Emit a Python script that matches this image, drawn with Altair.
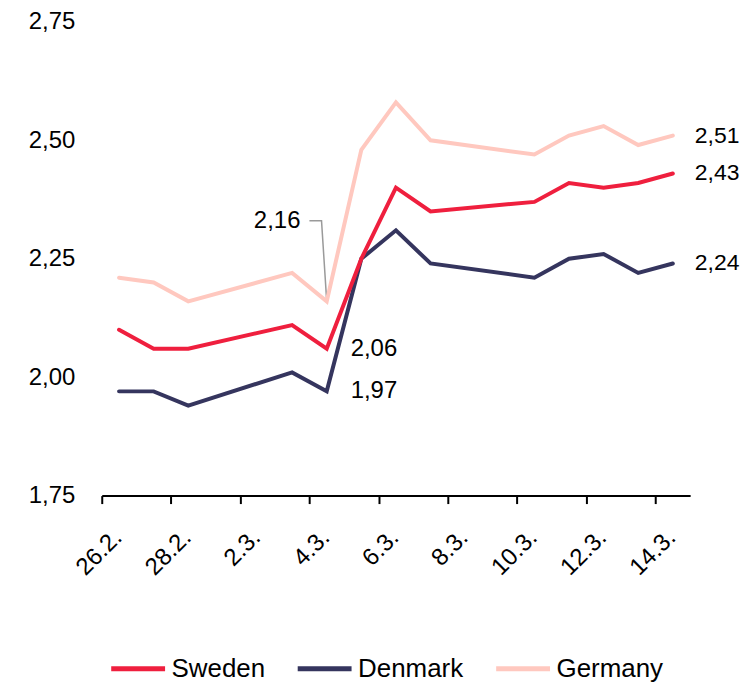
import altair as alt
import pandas as pd

FONT = "Liberation Sans"

# ---- data ----
dates = ["2025-02-26", "2025-02-27", "2025-02-28", "2025-03-03", "2025-03-04",
         "2025-03-05", "2025-03-06", "2025-03-07", "2025-03-10", "2025-03-11",
         "2025-03-12", "2025-03-13", "2025-03-14"]
sweden = [2.10, 2.06, 2.06, 2.11, 2.06, 2.25, 2.40, 2.35, 2.37, 2.41, 2.40, 2.41, 2.43]
denmark = [1.97, 1.97, 1.94, 2.01, 1.97, 2.25, 2.31, 2.24, 2.21, 2.25, 2.26, 2.22, 2.24]
germany = [2.21, 2.20, 2.16, 2.22, 2.16, 2.48, 2.58, 2.50, 2.47, 2.51, 2.53, 2.49, 2.51]

countries = ["Sweden", "Denmark", "Germany"]
colors = ["#EF1F3E", "#35355E", "#FFC8BF"]
y_ticks = [1.75, 2.00, 2.25, 2.50, 2.75]
x_tick_dates = ["2025-02-26", "2025-02-28", "2025-03-02", "2025-03-04", "2025-03-06",
                "2025-03-08", "2025-03-10", "2025-03-12", "2025-03-14"]
x_domain_dates = ["2025-02-26", "2025-03-15"]

# annotation: leader for the Germany value on 4.3.
leader_times = ["2025-03-04T00:00:00Z", "2025-03-04T08:24:00Z", "2025-03-04T12:00:00Z"]
leader_values = [2.33, 2.33, 2.16]


def ms(s):
    return int(pd.Timestamp(s, tz="UTC").value // 10**6)


def noon(d):
    return d + "T12:00:00Z"


def fmt(v):
    return f"{v:.2f}".replace(".", ",")


series = {"Sweden": sweden, "Denmark": denmark, "Germany": germany}
rows = []
for c in ["Germany", "Denmark", "Sweden"]:
    for d, v in zip(dates, series[c]):
        rows.append({"country": c, "date": noon(d), "value": v})
df_lines = pd.DataFrame(rows)

df_end = pd.DataFrame([
    {"country": c, "date": noon(dates[-1]), "value": series[c][-1], "text": fmt(series[c][-1])}
    for c in countries
])

i43 = dates.index("2025-03-04")
df_43 = pd.DataFrame([
    {"country": c, "date": noon(dates[i43]), "value": series[c][i43], "text": fmt(series[c][i43])}
    for c in ["Sweden", "Denmark"]
])
df_216 = pd.DataFrame([{"date": leader_times[0], "value": leader_values[0],
                        "text": fmt(germany[i43])}])
df_leader = pd.DataFrame({"date": leader_times, "value": leader_values})

x_scale = alt.Scale(type="utc", domain=[ms(d) for d in x_domain_dates])
y_scale = alt.Scale(domain=[y_ticks[0], y_ticks[-1]], nice=False, zero=False)

x_enc = alt.X(
    "date:T",
    scale=x_scale,
    axis=alt.Axis(
        title=None,
        values=[ms(d) for d in x_tick_dates],
        labelExpr="utcFormat(datum.value, '%-d.%-m.')",
        labelAngle=-45,
        labelAlign="right",
        labelBaseline="alphabetic",
        labelOffset=21,
        labelPadding=35,
        labelFontSize=24,
        labelFont=FONT,
        labelColor="#000000",
        labelOverlap=False,
        labelFlush=False,
        labelBound=False,
        domainColor="#000000",
        domainWidth=2,
        tickColor="#000000",
        tickWidth=2,
        tickSize=8,
        grid=False,
    ),
)
y_enc = alt.Y(
    "value:Q",
    scale=y_scale,
    axis=alt.Axis(
        title=None,
        values=y_ticks,
        labelExpr="replace(format(datum.value, '.2f'), '.', ',')",
        labelFontSize=24,
        labelFont=FONT,
        labelColor="#000000",
        labelPadding=27,
        domain=False,
        ticks=False,
        grid=False,
    ),
)

lines = alt.Chart(df_lines).mark_line(strokeWidth=4, strokeCap="round").encode(
    x=x_enc,
    y=y_enc,
    color=alt.Color(
        "country:N",
        scale=alt.Scale(domain=countries, range=colors),
        legend=alt.Legend(
            title=None,
            orient="none",
            direction="horizontal",
            legendX=7,
            legendY=619,
            symbolType="stroke",
            symbolSize=2916,
            symbolStrokeWidth=5,
            labelFontSize=26,
            labelFont=FONT,
            labelColor="#000000",
            labelOffset=4,
            columnPadding=22,
            padding=0,
        ),
    ),
    order=alt.value(0),
)

leader = alt.Chart(df_leader).mark_line(color="#9a9a9a", strokeWidth=1.5).encode(
    x=alt.X("date:T", scale=x_scale),
    y=alt.Y("value:Q", scale=y_scale),
)

end_text = alt.Chart(df_end).mark_text(
    align="left", baseline="middle", dx=22, dy=0, fontSize=23, font=FONT, color="#000000"
).encode(x=alt.X("date:T", scale=x_scale), y=alt.Y("value:Q", scale=y_scale), text="text:N")

t43 = alt.Chart(df_43).mark_text(
    align="left", baseline="middle", dx=24, dy=0, fontSize=24, font=FONT, color="#000000"
).encode(x=alt.X("date:T", scale=x_scale), y=alt.Y("value:Q", scale=y_scale), text="text:N")

t216 = alt.Chart(df_216).mark_text(
    align="right", baseline="middle", dx=-9, fontSize=24, font=FONT, color="#000000"
).encode(x=alt.X("date:T", scale=x_scale), y=alt.Y("value:Q", scale=y_scale), text="text:N")

chart = alt.layer(leader, lines, end_text, t43, t216).properties(
    width=590,
    height=475,
    padding={"left": 94, "top": 13, "right": 50, "bottom": 186},
    autosize=alt.AutoSizeParams(type="none"),
).configure_view(stroke=None)

chart.save("out.html", embed_options={"renderer": "svg", "actions": False})
